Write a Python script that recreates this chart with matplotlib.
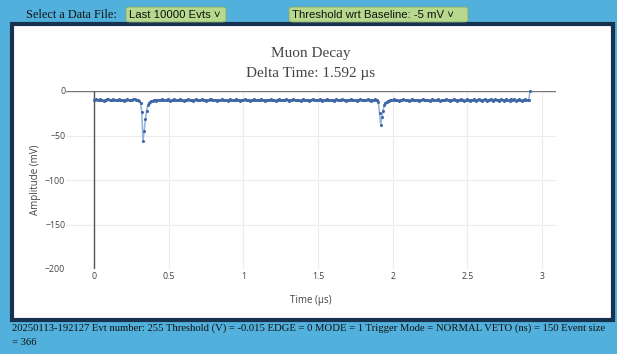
import matplotlib
matplotlib.use("Agg")
import matplotlib.pyplot as plt
from matplotlib.patches import FancyBboxPatch, Rectangle
import numpy as np

# waveform samples (mV), one every 8 ns
amplitude_mv = [
    -10, -10, -9, -10, -10, -9, -10, -10, -11, -10, -10, -9, -9, -10, -10, -10, -9, -10, -10, -10,
    -10, -9, -10, -10, -10, -11, -10, -10, -9, -10, -10, -10, -10, -9, -9, -10, -10, -10, -11, -13,
    -24, -56, -45, -32, -22, -16, -13, -12, -11, -11, -10, -10, -11, -10, -10, -10, -10, -9, -10, -10,
    -10, -10, -9, -10, -11, -10, -10, -9, -10, -10, -10, -10, -9, -10, -10, -11, -10, -10, -10, -9,
    -10, -10, -10, -11, -10, -9, -10, -10, -10, -10, -9, -10, -10, -10, -11, -10, -10, -9, -9, -10,
    -10, -10, -10, -11, -10, -10, -10, -9, -10, -10, -10, -10, -11, -10, -9, -10, -10, -10, -10, -9,
    -10, -10, -11, -10, -10, -10, -9, -10, -10, -10, -10, -11, -10, -10, -9, -10, -10, -10, -10, -10,
    -9, -10, -10, -11, -10, -10, -10, -10, -9, -10, -10, -10, -11, -10, -10, -9, -10, -10, -10, -10,
    -10, -9, -10, -11, -10, -10, -10, -9, -10, -10, -10, -10, -10, -11, -10, -9, -10, -10, -10, -10,
    -11, -10, -10, -9, -10, -10, -10, -10, -10, -9, -10, -11, -10, -10, -10, -9, -10, -10, -10, -10,
    -10, -11, -10, -9, -10, -10, -10, -10, -9, -10, -10, -11, -10, -10, -10, -9, -10, -10, -10, -10,
    -11, -10, -10, -9, -10, -10, -10, -10, -10, -9, -10, -10, -11, -10, -10, -9, -10, -10, -12, -25,
    -38, -29, -22, -16, -13, -12, -11, -11, -10, -10, -10, -9, -10, -10, -10, -11, -10, -10, -10, -9,
    -10, -10, -10, -10, -11, -10, -9, -10, -10, -10, -10, -10, -11, -10, -10, -9, -10, -10, -10, -10,
    -10, -11, -10, -9, -10, -10, -10, -10, -9, -10, -11, -10, -10, -10, -10, -9, -10, -10, -11, -10,
    -10, -9, -10, -10, -11, -10, -10, -9, -10, -10, -11, -10, -9, -10, -10, -11, -10, -10, -9, -10,
    -11, -10, -9, -10, -10, -11, -10, -9, -10, -11, -10, -10, -9, -10, -11, -10, -9, -10, -10, -11,
    -10, -9, -10, -11, -10, -9, -10, -10, -11, -9, -10, -10, -9, -11, -10, -10, -9, -10, -11, -10,
    -10, -9, -10, -10, -10, 0,
]
sample_us = 0.008
time_us = np.arange(len(amplitude_mv)) * sample_us

x_ticks = [0, 0.5, 1, 1.5, 2, 2.5, 3]
x_tick_labels = ["0", "0.5", "1", "1.5", "2", "2.5", "3"]
y_ticks = [0, -50, -100, -150, -200]
y_tick_labels = ["0", "\u221250", "\u2212100", "\u2212150", "\u2212200"]

file_choice = "Last 10000 Evts"
threshold_choice = "Threshold wrt Baseline: -5 mV"
info_line1 = ("20250113-192127 Evt number: 255 Threshold (V) = -0.015 EDGE = 0 MODE = 1 "
              "Trigger Mode = NORMAL VETO (ns) = 150 Event size")
info_line2 = "= 366"

W, H = 617, 354


def fx(x):
    return x / W


def fy(y):
    return 1 - y / H


fig = plt.figure(figsize=(W / 100, H / 100), dpi=100, facecolor="#52b0dc")

# white panel with dark frame
fig.patches.append(Rectangle((fx(12), fy(320)), fx(601), (320 - 24) / H,
                             transform=fig.transFigure, facecolor="white",
                             edgecolor="#17324f", linewidth=3, zorder=0))

# dropdowns
for x0, x1, label in [(126, 226, file_choice), (289, 468, threshold_choice)]:
    fig.patches.append(FancyBboxPatch((fx(x0), fy(22)), fx(x1 - x0), 15 / H,
                                      boxstyle="round,pad=0,rounding_size=0.006",
                                      transform=fig.transFigure, facecolor="#b6d98e",
                                      edgecolor="#8aa86a", linewidth=0.6))
    fig.text(fx(x0 + 3), fy(14.5), label + " \u02c5", fontsize=8.2,
             family="Liberation Sans", va="center", ha="left", color="#111")
fig.text(fx(26), fy(14.5), "Select a Data File:", fontsize=8.8,
         family="Liberation Serif", va="center", ha="left", color="#111")

ax = fig.add_axes([fx(66), fy(269), fx(556 - 66), (269 - 91) / H])
ax.set_zorder(2)
ax.set_facecolor("white")
ax.plot(time_us, amplitude_mv, color="#8fb3dc", linewidth=1.1, zorder=3, clip_on=False)
ax.plot(time_us, amplitude_mv, linestyle="none", marker="o", markersize=1.2,
        color="#3f67a6", zorder=4, clip_on=False)

ax.set_xlim(-0.1875, 3.094)
ax.set_ylim(-200, 0)
for s in ax.spines.values():
    s.set_visible(False)
ax.set_xticks(x_ticks, x_tick_labels)
ax.set_yticks(y_ticks, y_tick_labels)
ax.tick_params(length=0, labelsize=6.3, labelcolor="#444", pad=2.5)
ax.tick_params(axis="y", pad=0.5)
for lab in ax.get_xticklabels() + ax.get_yticklabels():
    lab.set_family("Open Sans")
ax.grid(True, color="#ececec", linewidth=0.8, zorder=0)
ax.axhline(0, color="#777", linewidth=1, zorder=2)
ax.axvline(0, color="#555", linewidth=1, zorder=2)

ax.set_xlabel("Time (\u00b5s)", fontsize=7, color="#444", family="Open Sans", labelpad=10)
ax.set_ylabel("Amplitude (mV)", fontsize=7, color="#444", family="Open Sans", labelpad=3)

fig.text(fx(311), fy(54), "Muon Decay", fontsize=11, family="Liberation Serif",
         ha="center", va="center", color="#444")
fig.text(fx(311), fy(73), "Delta Time: 1.592 \u00b5s", fontsize=11,
         family="Liberation Serif", ha="center", va="center", color="#444")

fig.text(fx(12), fy(328), info_line1, fontsize=7.7, family="Liberation Serif",
         ha="left", va="center", color="#111")
fig.text(fx(12), fy(342.5), info_line2, fontsize=7.7, family="Liberation Serif",
         ha="left", va="center", color="#111")

fig.savefig("out.png", dpi=100, facecolor=fig.get_facecolor())
